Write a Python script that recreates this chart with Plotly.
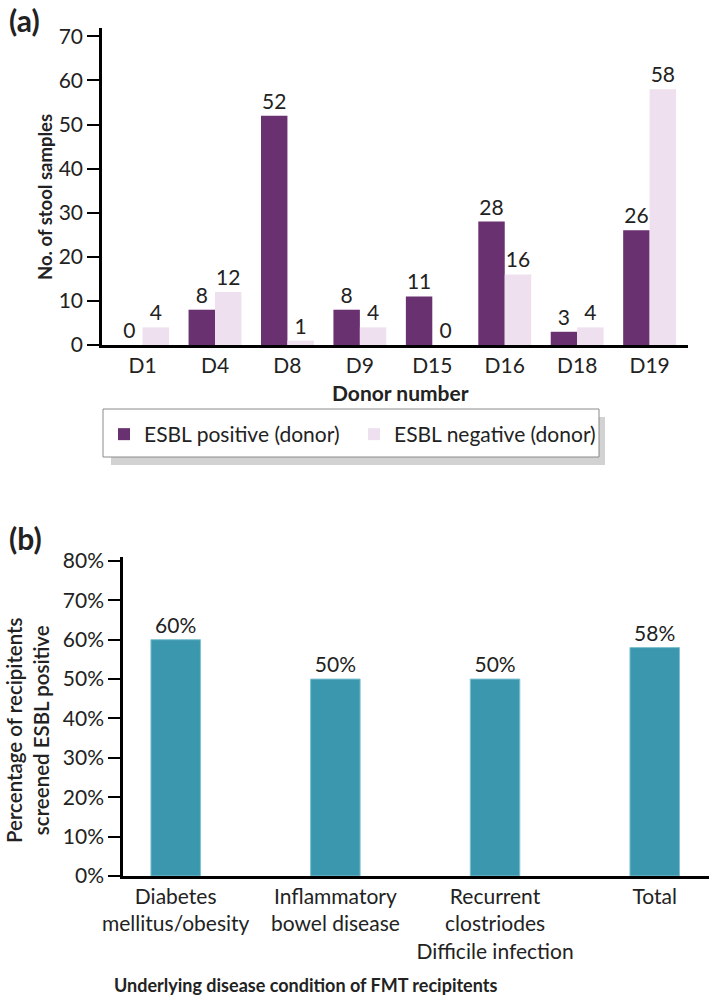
import plotly.graph_objects as go

# ---------------- data ----------------
donors = ["D1", "D4", "D8", "D9", "D15", "D16", "D18", "D19"]
esbl_positive = [0, 8, 52, 8, 11, 28, 3, 26]
esbl_negative = [4, 12, 1, 4, 0, 16, 4, 58]
a_yticks = [0, 10, 20, 30, 40, 50, 60, 70]

conditions = [
    "Diabetes<br>mellitus/obesity",
    "Inflammatory<br>bowel disease",
    "Recurrent<br>clostriodes<br>Difficile infection",
    "Total",
]
pct_positive = [60, 50, 50, 58]
b_yticks = [0, 10, 20, 30, 40, 50, 60, 70, 80]
b_yticklabels = [f"{v}%" for v in b_yticks]

# ---------------- style ----------------
W, H = 709, 999
PURPLE = "#6A3170"
LILAC = "#EEE0EE"
TEAL = "#3A97AE"
TXT = "#222222"
FONT = "Lato, Open Sans, sans-serif"


def px(x):
    return x / W


def py(y):
    return 1 - y / H


fig = go.Figure()

fig.add_trace(go.Bar(
    x=donors, y=esbl_positive, name="ESBL positive (donor)",
    marker=dict(color=PURPLE, line=dict(width=0)),
    text=[str(v) for v in esbl_positive], textposition="outside",
    textfont=dict(size=21, color=TXT, family=FONT), cliponaxis=False,
    xaxis="x", yaxis="y",
))
fig.add_trace(go.Bar(
    x=donors, y=esbl_negative, name="ESBL negative (donor)",
    marker=dict(color=LILAC, line=dict(width=0)),
    text=[str(v) for v in esbl_negative], textposition="outside",
    textfont=dict(size=21, color=TXT, family=FONT), cliponaxis=False,
    xaxis="x", yaxis="y",
))
fig.add_trace(go.Bar(
    x=conditions, y=pct_positive, name="pct", showlegend=False,
    width=0.31,
    marker=dict(color=TEAL, line=dict(width=1, color="#7cc0cf")),
    text=[f"{v}%" for v in pct_positive], textposition="outside",
    textfont=dict(size=21, color=TXT, family=FONT), cliponaxis=False,
    xaxis="x2", yaxis="y2",
))

axis_common = dict(showline=True, linecolor="black", linewidth=2.5,
                   showgrid=False, zeroline=False, mirror=False,
                   automargin=False)

fig.update_layout(
    template="none",
    width=W, height=H, autosize=False,
    margin=dict(l=0, r=0, t=0, b=0, pad=0),
    paper_bgcolor="white", plot_bgcolor="white",
    font=dict(family=FONT, color=TXT, size=18),
    barmode="group", bargap=0.27, bargroupgap=0,
    xaxis=dict(domain=[px(102), px(688)], anchor="y", type="category",
               range=[-0.56, 7.53], ticks="", tickfont=dict(size=21),
               **axis_common),
    yaxis=dict(domain=[py(345), py(27.5)], anchor="x", range=[0, 72],
               tickvals=a_yticks, ticks="outside", ticklen=12, tickwidth=1.5,
               tickcolor="black", tickfont=dict(size=21), **axis_common),
    xaxis2=dict(domain=[px(123), 1.0], anchor="y2", type="category",
                range=[-0.33, 3.34], ticks="",
                tickfont=dict(size=21), **axis_common),
    yaxis2=dict(domain=[py(876), py(557)], anchor="x2", range=[0, 81],
                tickvals=b_yticks, ticktext=b_yticklabels,
                ticks="outside", ticklen=12, tickwidth=1.5, tickcolor="black",
                tickfont=dict(size=21), **axis_common),
    showlegend=True,
    legend=dict(orientation="h", x=px(104), y=py(414), xanchor="left",
                yanchor="top", bgcolor="rgba(0,0,0,0)", borderwidth=0,
                font=dict(size=21, family=FONT, color=TXT),
                entrywidth=205, entrywidthmode="pixels",
                traceorder="normal"),
)

# legend frame with drop shadow
fig.add_shape(type="rect", xref="paper", yref="paper",
              x0=px(111), x1=px(605), y0=py(465), y1=py(417),
              fillcolor="#d2d2d2", line=dict(width=0), layer="below")
fig.add_shape(type="rect", xref="paper", yref="paper",
              x0=px(103), x1=px(599), y0=py(457), y1=py(409),
              fillcolor="white", line=dict(width=1, color="#8a8a8a"),
              layer="below")

annotations = [
    dict(text="<b>(a)</b>", x=px(7), y=py(0), xanchor="left", yanchor="top",
         font=dict(size=30)),
    dict(text="<b>(b)</b>", x=px(7), y=py(518), xanchor="left", yanchor="top",
         font=dict(size=30)),
    dict(text="<b>Donor number</b>", x=px(400), y=py(392), xanchor="center",
         yanchor="middle", font=dict(size=21)),
    dict(text="<b>No. of stool samples</b>", x=px(45), y=py(197),
         xanchor="center", yanchor="middle", textangle=-90,
         font=dict(size=18.5)),
    dict(text="Percentage of recipitents<br>screened ESBL positive",
         x=px(27), y=py(730), xanchor="center", yanchor="middle",
         textangle=-90, font=dict(size=20.5, weight=600)),
    dict(text="<b>Underlying disease condition of FMT recipitents</b>",
         x=px(305), y=py(985), xanchor="center", yanchor="middle",
         font=dict(size=18)),
]
for a in annotations:
    a.update(xref="paper", yref="paper", showarrow=False)
fig.update_layout(annotations=annotations)

fig.write_html(
    "out.html",
    config={"displayModeBar": False},
    post_script="document.body.style.margin='0';document.body.style.padding='0';",
)
